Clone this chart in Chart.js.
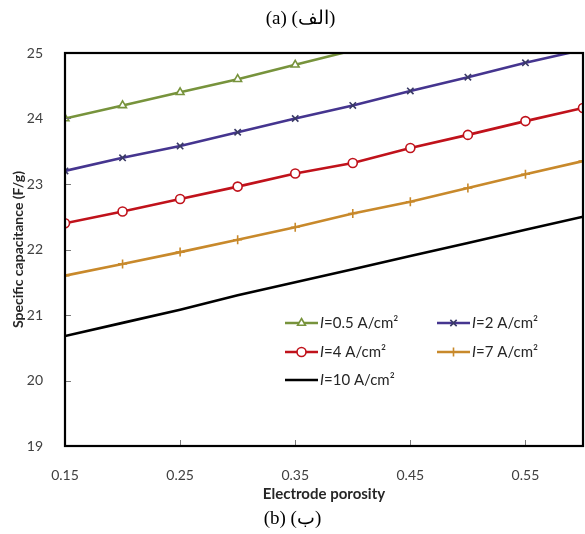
<!DOCTYPE html>
<html>
<head>
<meta charset="utf-8">
<script src="https://cdn.jsdelivr.net/npm/chart.js@4/dist/chart.umd.min.js"></script>
<style>
  html, body { margin: 0; padding: 0; background: #ffffff; }
  #wrap { position: relative; width: 585px; height: 534px; }
  canvas { position: absolute; left: 0; top: 0; }
  .cap { position: absolute; left: 0; width: 585px; text-align: center; font-family: "Liberation Serif", "DejaVu Serif", serif; font-size: 19px; color: #000; white-space: nowrap; }
</style>
</head>
<body>
<div id="wrap">
  <canvas id="c" width="585" height="534"></canvas>
  <div class="cap" id="capTop" style="top:6px; padding-left:16px; box-sizing:border-box;">(a) (الف)</div>
  <div class="cap" id="capBottom" style="top:506px;">(b) (ب)</div>
</div>
<script>
// ---- data ----
const porosity = [0.15, 0.20, 0.25, 0.30, 0.35, 0.40, 0.45, 0.50, 0.55, 0.60];
const xTickValues = [0.15, 0.25, 0.35, 0.45, 0.55];
const yTickValues = [19, 20, 21, 22, 23, 24, 25];
const seriesLabels = ["=0.5 A/cm²", "=2 A/cm²", "=4 A/cm²", "=7 A/cm²", "=10 A/cm²"];
const cap05 = [24.00, 24.20, 24.40, 24.60, 24.82, 25.04];
const cap2  = [23.20, 23.40, 23.58, 23.79, 24.00, 24.20, 24.42, 24.63, 24.85, 25.05];
const cap4  = [22.40, 22.58, 22.77, 22.96, 23.16, 23.32, 23.55, 23.75, 23.96, 24.16];
const cap7  = [21.60, 21.78, 21.96, 22.15, 22.34, 22.55, 22.73, 22.94, 23.15, 23.35];
const cap10 = [20.68, 20.88, 21.08, 21.30, 21.50, 21.70, 21.90, 22.10, 22.30, 22.50];

const toXY = arr => arr.map((v, i) => ({ x: porosity[i], y: v }));

const styles = [
  { color: '#77933c', pointStyle: 'triangle', radius: 4.5, bg: '#ffffff' },
  { color: '#45358f', pointStyle: 'crossRot', radius: 4.5, bg: '#45358f' },
  { color: '#c0121b', pointStyle: 'circle',   radius: 4.5, bg: '#ffffff' },
  { color: '#c8892b', pointStyle: 'cross',    radius: 4.5, bg: '#c8892b' },
  { color: '#000000', pointStyle: false,      radius: 0,   bg: '#000000' }
];
const seriesData = [cap05, cap2, cap4, cap7, cap10];

const datasets = seriesData.map((arr, i) => ({
  label: 'I' + seriesLabels[i],
  data: toXY(arr),
  borderColor: styles[i].color,
  backgroundColor: styles[i].bg,
  pointBackgroundColor: styles[i].bg,
  pointBorderColor: i === 1 ? '#3a3a66' : styles[i].color,
  pointStyle: styles[i].pointStyle,
  pointRadius: styles[i].radius,
  pointBorderWidth: 1.6,
  borderWidth: 2.6,
  tension: 0,
  fill: false
}));

const legendPos = [[285, 323], [437, 323], [285, 352], [437, 352], [285, 380]];
const zeroPad = () => ({ left: 0, right: 0, top: 0, bottom: 0 });

const framePlugin = {
  id: 'frame',
  afterDatasetsDraw(chart) {
    const { ctx, chartArea: a, scales } = chart;
    ctx.save();
    ctx.strokeStyle = '#7a7a7a';
    ctx.lineWidth = 1;
    yTickValues.forEach(v => {
      const y = Math.round(scales.y.getPixelForValue(v)) + 0.5;
      ctx.beginPath(); ctx.moveTo(a.left, y); ctx.lineTo(a.left + 6, y); ctx.stroke();
    });
    xTickValues.forEach(v => {
      const x = Math.round(scales.x.getPixelForValue(v)) + 0.5;
      ctx.beginPath(); ctx.moveTo(x, a.bottom); ctx.lineTo(x, a.bottom - 6); ctx.stroke();
    });
    ctx.strokeStyle = '#000000';
    ctx.lineWidth = 2.2;
    ctx.strokeRect(a.left, a.top, a.right - a.left, a.bottom - a.top);
    ctx.restore();
  },
  afterDraw(chart) {
    const { ctx } = chart;
    ctx.save();
    chart.data.datasets.forEach((ds, i) => {
      const [x0, y0] = legendPos[i];
      ctx.strokeStyle = ds.borderColor;
      ctx.lineWidth = 2.6;
      ctx.beginPath(); ctx.moveTo(x0, y0); ctx.lineTo(x0 + 33, y0); ctx.stroke();
      if (ds.pointStyle && Chart.helpers && Chart.helpers.drawPoint) {
        ctx.fillStyle = ds.pointBackgroundColor;
        ctx.strokeStyle = ds.pointBorderColor;
        ctx.lineWidth = ds.pointBorderWidth;
        Chart.helpers.drawPoint(ctx, { pointStyle: ds.pointStyle, radius: ds.pointRadius, rotation: 0, borderWidth: ds.pointBorderWidth }, x0 + 16.5, y0);
      }
      ctx.fillStyle = '#262626';
      ctx.textBaseline = 'middle';
      ctx.textAlign = 'left';
      ctx.font = 'italic 15px Lato';
      ctx.fillText('I', x0 + 35, y0 + 0.5);
      const w = ctx.measureText('I').width;
      ctx.font = '15px Lato';
      ctx.fillText(seriesLabels[i], x0 + 35 + w, y0 + 0.5);
    });
    ctx.restore();
  }
};

new Chart(document.getElementById('c'), {
  type: 'line',
  data: { datasets },
  plugins: [framePlugin],
  options: {
    responsive: false,
    animation: false,
    layout: { autoPadding: false, padding: { left: 0, right: 2, top: 53, bottom: 28 } },
    plugins: { legend: { display: false }, tooltip: { enabled: false } },
    scales: {
      x: {
        type: 'linear',
        min: 0.15, max: 0.6,
        afterFit: s => { s.height = 60; s.paddingLeft = 0; s.paddingRight = 0; s.getPadding = zeroPad; },
        afterBuildTicks: s => { s.ticks = xTickValues.map(v => ({ value: v })); },
        grid: { display: false },
        border: { display: false },
        ticks: {
          padding: 13,
          color: '#404040',
          font: { family: 'Lato', size: 14 },
          maxRotation: 0,
          callback: v => Number(v).toFixed(2)
        },
        title: {
          display: true,
          text: 'Electrode porosity',
          color: '#262626',
          font: { family: 'Lato', size: 15, weight: 'bold' },
          padding: { top: 4, bottom: 3 }
        }
      },
      y: {
        min: 19, max: 25,
        afterFit: s => { s.width = 65; s.paddingTop = 0; s.paddingBottom = 0; s.getPadding = zeroPad; },
        afterBuildTicks: s => { s.ticks = yTickValues.map(v => ({ value: v })); },
        grid: { display: false },
        border: { display: false },
        ticks: {
          padding: 14,
          color: '#404040',
          font: { family: 'Lato', size: 14 }
        },
        title: {
          display: true,
          text: 'Specific capacitance (F/g)',
          color: '#262626',
          font: { family: 'Lato', size: 14, weight: 'bold' },
          padding: { top: 10.5, bottom: 4 }
        }
      }
    }
  }
});
</script>
</body>
</html>
